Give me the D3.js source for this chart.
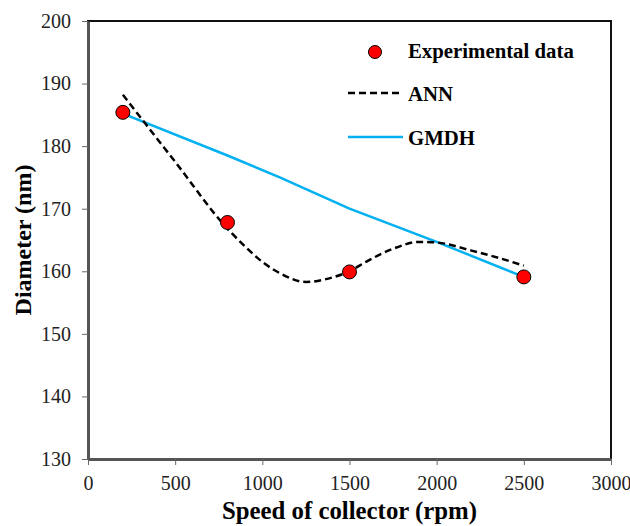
<!DOCTYPE html>
<html>
<head>
<meta charset="utf-8">
<script src="https://cdnjs.cloudflare.com/ajax/libs/d3/7.8.5/d3.min.js"></script>
<style>
  body { margin: 0; background: #fff; }
</style>
</head>
<body>
<script>
// experimental points
var expSpeed = [200, 800, 1500, 2500];
var expDiameter = [185.4, 167.8, 159.9, 159.1];

// ANN prediction curve
var annSpeed = [200, 500, 800, 900, 1000, 1100, 1250, 1400, 1500, 1600, 1750, 1900, 2000, 2200, 2360, 2500];
var annDiameter = [188.2, 177.5, 166.8, 164.0, 161.5, 159.7, 158.3, 159.0, 160.0, 161.6, 163.6, 164.7, 164.6, 163.3, 162.1, 160.9];

// GMDH prediction line
var gmdhSpeed = [200, 800, 1100, 1500, 2000, 2500];
var gmdhDiameter = [185.2, 178.5, 175.0, 170.0, 164.7, 159.1];

var xTicks = [0, 500, 1000, 1500, 2000, 2500, 3000];
var yTicks = [130, 140, 150, 160, 170, 180, 190, 200];

var legendLabels = ["Experimental data", "ANN", "GMDH"];

var margin = { top: 21, right: 19, bottom: 67, left: 88 };
var W = 630, H = 526;
var w = W - margin.left - margin.right;
var h = H - margin.top - margin.bottom;
var serif = "Liberation Serif";

var svg = d3.select("body")
    .append("svg")
    .attr("width", W)
    .attr("height", H)
    .attr("font-family", serif);

var g = svg.append("g")
    .attr("transform", "translate(" + margin.left + "," + margin.top + ")");

var xScale = d3.scaleLinear().domain([0, 3000]).range([0, w]);
var yScale = d3.scaleLinear().domain([130, 200]).range([h, 0]);

// frame
g.append("rect")
    .attr("x", 0).attr("y", 0)
    .attr("width", w).attr("height", h)
    .attr("fill", "none")
    .attr("stroke", "#111")
    .attr("stroke-width", 2);

// axes
var xAxis = g.append("g")
    .attr("transform", "translate(0," + h + ")")
    .call(d3.axisBottom(xScale).tickValues(xTicks).tickFormat(d3.format("d"))
        .tickSize(6).tickPadding(11).tickSizeOuter(0));
var yAxis = g.append("g")
    .call(d3.axisLeft(yScale).tickValues(yTicks).tickFormat(d3.format("d"))
        .tickSize(6).tickPadding(11).tickSizeOuter(0));

[xAxis, yAxis].forEach(function (ax) {
    ax.attr("font-family", serif).attr("font-size", 20);
    ax.select(".domain").attr("stroke", "#555").attr("stroke-width", 3);
    ax.selectAll(".tick line").attr("stroke", "#666").attr("stroke-width", 1);
    ax.selectAll(".tick text").attr("fill", "#222");
});

// GMDH line
var line = d3.line()
    .x(function (d) { return xScale(d[0]); })
    .y(function (d) { return yScale(d[1]); });

g.append("path")
    .datum(d3.zip(gmdhSpeed, gmdhDiameter))
    .attr("d", line)
    .attr("fill", "none")
    .attr("stroke", "#00b0f0")
    .attr("stroke-width", 2.5);

// ANN curve
g.append("path")
    .datum(d3.zip(annSpeed, annDiameter))
    .attr("d", line.curve(d3.curveMonotoneX))
    .attr("fill", "none")
    .attr("stroke", "#000")
    .attr("stroke-width", 2.5)
    .attr("stroke-dasharray", "7,4");

// experimental points
g.selectAll("circle.exp")
    .data(d3.zip(expSpeed, expDiameter))
    .enter()
    .append("circle")
    .attr("class", "exp")
    .attr("cx", function (d) { return xScale(d[0]); })
    .attr("cy", function (d) { return yScale(d[1]); })
    .attr("r", 7)
    .attr("fill", "#ff0000")
    .attr("stroke", "#000")
    .attr("stroke-width", 1);

// legend
var legend = svg.append("g");
var legY = [52, 93, 137];
var legBase = [58, 101, 145];
legend.append("circle")
    .attr("cx", 375).attr("cy", legY[0]).attr("r", 6.5)
    .attr("fill", "#ff0000").attr("stroke", "#000").attr("stroke-width", 1);
legend.append("line")
    .attr("x1", 348).attr("x2", 403).attr("y1", legY[1]).attr("y2", legY[1])
    .attr("stroke", "#000").attr("stroke-width", 2.5).attr("stroke-dasharray", "7,4");
legend.append("line")
    .attr("x1", 348).attr("x2", 403).attr("y1", legY[2]).attr("y2", legY[2])
    .attr("stroke", "#00b0f0").attr("stroke-width", 2.5);
legend.selectAll("text")
    .data(legendLabels)
    .enter()
    .append("text")
    .attr("x", 408)
    .attr("y", function (d, i) { return legBase[i]; })
    .attr("font-size", 20.8)
    .attr("font-weight", "bold")
    .text(function (d) { return d; });

// axis titles
svg.append("text")
    .attr("x", margin.left + w / 2)
    .attr("y", 519)
    .attr("text-anchor", "middle")
    .attr("font-size", 24.8)
    .attr("font-weight", "bold")
    .text("Speed of collector (rpm)");

svg.append("text")
    .attr("transform", "translate(31," + (margin.top + h / 2) + ") rotate(-90)")
    .attr("text-anchor", "middle")
    .attr("font-size", 24)
    .attr("font-weight", "bold")
    .text("Diameter (nm)");
</script>
</body>
</html>
